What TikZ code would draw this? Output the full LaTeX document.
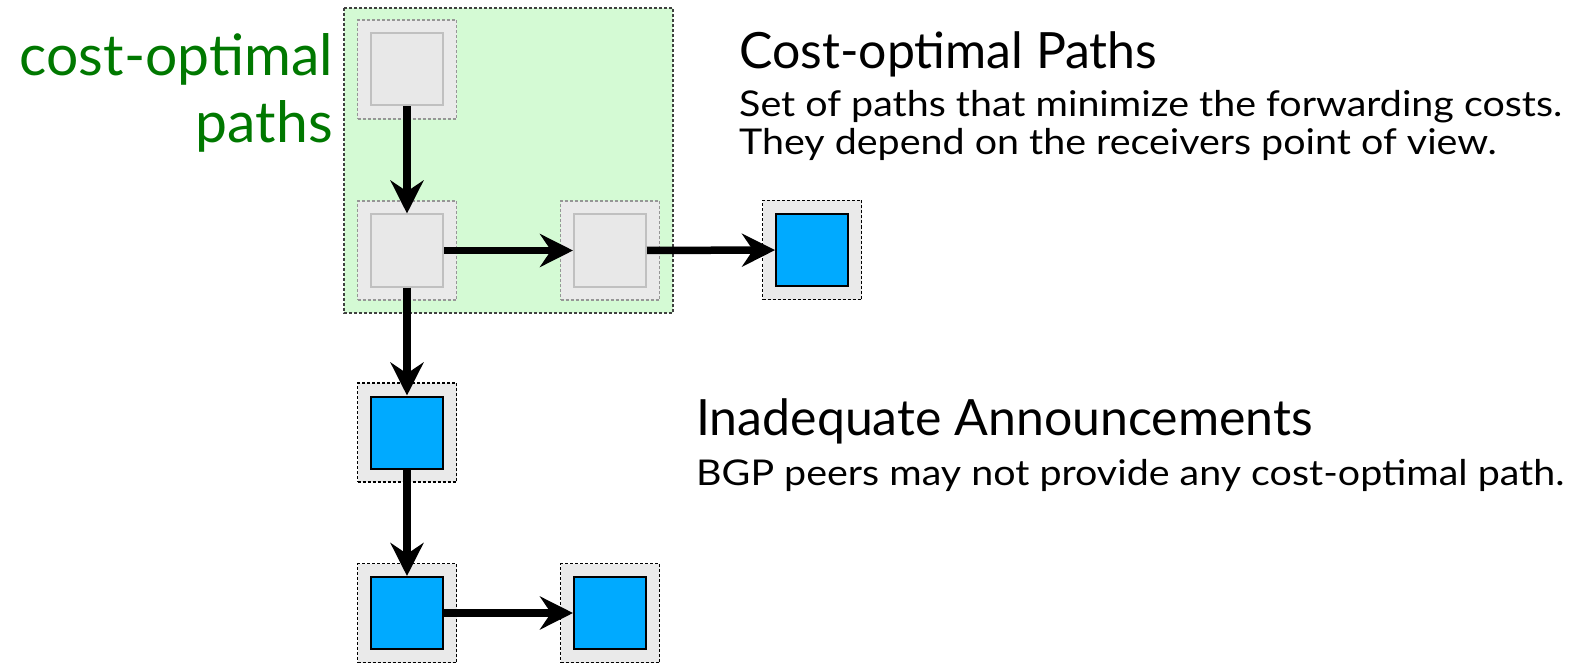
\documentclass[tikz,border=0pt]{standalone}
\usepackage{fontspec}
\setmainfont{Lato}
\newfontfamily\bodyfont{Lato}[FakeStretch=1.11]
\usetikzlibrary{arrows.meta}
\definecolor{greenbg}{RGB}{212,250,212}
\definecolor{greentext}{RGB}{0,120,0}
\definecolor{nodeblue}{RGB}{0,170,255}
\definecolor{outerfill}{RGB}{234,234,234}
\definecolor{innerfill}{RGB}{232,232,232}
\definecolor{innerdraw}{RGB}{192,192,192}
\definecolor{outerdraw}{RGB}{150,150,150}
\tikzset{
  outergray/.style={rectangle, minimum size=99pt, fill=outerfill, draw=outerdraw, line width=1.6pt, dash pattern=on 3pt off 2pt, inner sep=0pt},
  outerblue/.style={rectangle, minimum size=99pt, fill=outerfill, draw=black, line width=1.6pt, dash pattern=on 3pt off 2pt, inner sep=0pt},
  innergray/.style={rectangle, minimum size=72pt, fill=innerfill, draw=innerdraw, line width=2pt, inner sep=0pt},
  innerblue/.style={rectangle, minimum size=72pt, fill=nodeblue, draw=black, line width=2pt, inner sep=0pt},
  flow/.style={line width=7.5pt, -{Stealth[length=33pt,width=33pt,inset=11pt]}},
  greenarea/.style={fill=greenbg, draw=black!75, line width=1.6pt, dash pattern=on 3pt off 2pt},
  greenlabel/.style={anchor=base east, inner sep=0pt, text=greentext, font=\fontsize{57pt}{70pt}\selectfont},
  heading/.style={anchor=base west, inner sep=0pt, font=\fontsize{50pt}{60pt}\selectfont},
  bodytext/.style={anchor=base west, inner sep=0pt, font=\bodyfont\fontsize{35.5pt}{42pt}\selectfont},
}
\begin{document}
\begin{tikzpicture}[x=1pt,y=-1pt]
\useasboundingbox (0,0) rectangle (1582,663);
\fill[white] (0,0) rectangle (1582,663);
% green area
\draw[greenarea] (344,8) rectangle (673,313);
\node[greenlabel] (lbl1) at (333,76) {cost-optimal};
\node[greenlabel] (lbl2) at (333,143) {paths};
% outer boxes
\node[outergray] (o1) at (407,69.5) {};
\node[outergray] (o2) at (407,250.5) {};
\node[outergray] (o3) at (610,250.5) {};
\node[outerblue] (o4) at (812,250) {};
\node[outerblue] (o5) at (407,432.5) {};
\node[outerblue] (o6) at (407,613) {};
\node[outerblue] (o7) at (610,613) {};
% inner boxes
\node[innergray] (a) at (o1) {};
\node[innergray] (b) at (o2) {};
\node[innergray] (c) at (o3) {};
\node[innerblue] (d) at (o4) {};
\node[innerblue] (e) at (o5) {};
\node[innerblue] (f) at (o6) {};
\node[innerblue] (g) at (o7) {};
% arrows
\draw[flow] (a) -- (b);
\draw[flow] (b) -- (c);
\draw[flow] (c) -- (d);
\draw[flow] (b) -- (e);
\draw[flow] (e) -- (f);
\draw[flow] (f) -- (g);
% texts
\node[heading] (h1) at (739,69) {Cost-optimal Paths};
\node[bodytext] (t1) at (739,117) {Set of paths that minimize the forwarding costs.};
\node[bodytext] (t2) at (739,155) {They depend on the receivers point of view.};
\node[heading] (h2) at (696,435) {Inadequate Announcements};
\node[bodytext] (t3) at (696,485) {BGP peers may not provide any cost-optimal path.};
\end{tikzpicture}
\end{document}
